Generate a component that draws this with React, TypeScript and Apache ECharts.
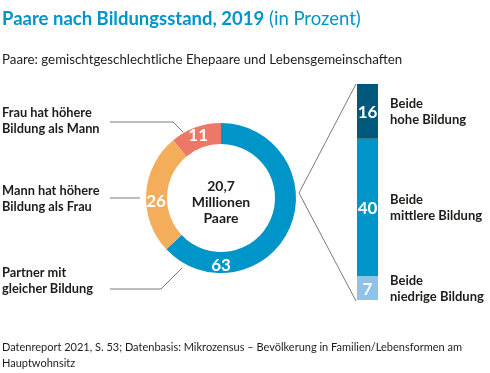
import React, { useEffect, useRef } from 'react';
import * as echarts from 'echarts';

const donutLabels = ['Partner mit\ngleicher Bildung', 'Mann hat höhere\nBildung als Frau', 'Frau hat höhere\nBildung als Mann'];
const donutValues = [63, 26, 11];
const barLabels = ['Beide\nniedrige Bildung', 'Beide\nmittlere Bildung', 'Beide\nhohe Bildung'];
const barValues = [7, 40, 16];
const centerLines = ['20,7', 'Millionen', 'Paare'];
const titleBold = 'Paare nach Bildungsstand, 2019';
const titleLight = ' (in Prozent)';
const subtitle = 'Paare: gemischtgeschlechtliche Ehepaare und Lebensgemeinschaften';
const source = 'Datenreport 2021, S. 53; Datenbasis: Mikrozensus – Bevölkerung in Familien/Lebensformen am\nHauptwohnsitz';

const FONT = 'Lato';
const BLUE = '#0095C8';
const TEXT = '#1d1d1b';
const donutColors = [BLUE, '#F4AD5B', '#EC7868'];
const barColors = ['#8DC3E8', BLUE, '#00587C'];

export default function App() {
  const ref = useRef<HTMLDivElement>(null);
  useEffect(() => {
    if (!ref.current) return;
    const chart = echarts.init(ref.current, undefined, { renderer: 'svg' });
    const total = barValues.reduce((a, b) => a + b, 0);
    const labelPos = [280, 198, 120];
    const series: any[] = [
      {
        type: 'pie',
        center: [221, 198],
        radius: [54, 75],
        startAngle: 90,
        clockwise: true,
        silent: true,
        data: donutValues.map((v, i) => ({ value: v, name: donutLabels[i], itemStyle: { color: donutColors[i] } })),
        label: { show: true, position: 'inside', formatter: '{c}', color: '#fff', fontWeight: 'bold', fontSize: 17, fontFamily: FONT },
        labelLine: { show: false },
        labelLayout: (p: any) => (p.dataIndex === 0 ? { x: 221, y: 264 } : p.dataIndex === 1 ? { x: 156, y: 200 } : {}),
      },
    ];
    barValues.forEach((v, i) => {
      series.push({
        type: 'bar', stack: 'v', xAxisIndex: 0, yAxisIndex: 0, barWidth: 21, barGap: '-100%', silent: true,
        data: [v], itemStyle: { color: barColors[i] },
        label: { show: true, position: 'inside', color: '#fff', fontWeight: 'bold', fontSize: 17, fontFamily: FONT },
      });
    });
    barValues.forEach((v, i) => {
      series.push({
        type: 'bar', stack: 'n', xAxisIndex: 0, yAxisIndex: 0, barWidth: 21, barGap: '-100%', silent: true,
        data: [v], itemStyle: { color: 'rgba(0,0,0,0)' },
        label: { show: true, position: 'right', distance: 12, formatter: barLabels[i], color: TEXT, fontWeight: 'bold', fontSize: 13, lineHeight: 16, fontFamily: FONT, align: 'left' },
      });
    });
    const graphic: any[] = [
      {
        type: 'text', left: 2, top: 8,
        style: {
          text: `{b|${titleBold}}{n|${titleLight}}`,
          rich: {
            b: { fontFamily: FONT, fontSize: 18.5, fontWeight: 'bold', fill: BLUE },
            n: { fontFamily: FONT, fontSize: 18.5, fontWeight: 'normal', fill: BLUE },
          },
        },
      },
      { type: 'text', left: 2, top: 52, style: { text: subtitle, fontFamily: FONT, fontSize: 13.3, fill: TEXT } },
      { type: 'text', left: 2, top: 338, style: { text: source, fontFamily: FONT, fontSize: 11, lineHeight: 16, fill: TEXT } },
      {
        type: 'text', x: 221, y: 201,
        style: { text: centerLines.join('\n'), fontFamily: FONT, fontSize: 14, fontWeight: 'bold', lineHeight: 16, fill: TEXT, align: 'center', verticalAlign: 'middle' },
      },
      { type: 'polyline', shape: { points: [[356, 84], [299, 193], [356, 301]] }, style: { stroke: '#7a7a7a', lineWidth: 1, fill: null } },
      { type: 'polyline', shape: { points: [[110, 122], [173, 122], [183, 132]] }, style: { stroke: '#7a7a7a', lineWidth: 1, fill: null } },
      { type: 'polyline', shape: { points: [[110, 198], [140, 198]] }, style: { stroke: '#7a7a7a', lineWidth: 1, fill: null } },
      { type: 'polyline', shape: { points: [[110, 289], [161, 289], [182, 268]] }, style: { stroke: '#7a7a7a', lineWidth: 1, fill: null } },
    ];
    donutLabels.forEach((t, i) => {
      graphic.push({
        type: 'text', x: 2, y: labelPos[i],
        style: { text: t, fontFamily: FONT, fontSize: 12.8, fontWeight: 'bold', lineHeight: 16, fill: TEXT, verticalAlign: 'middle' },
      });
    });
    chart.setOption({
      animation: false,
      grid: { left: 357, top: 84, width: 21, height: 216 },
      xAxis: { type: 'category', data: ['Partner mit gleicher Bildung'], show: false },
      yAxis: { type: 'value', min: 0, max: total, show: false },
      series,
      graphic,
    });
    return () => chart.dispose();
  }, []);
  return <div ref={ref} style={{ position: 'fixed', left: 0, top: 0, width: 490, height: 373 }} />;
}
